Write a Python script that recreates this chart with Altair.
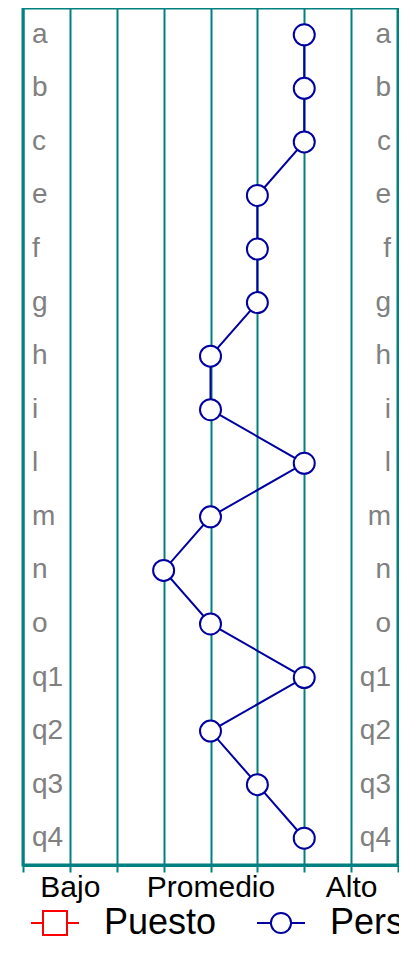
import altair as alt
import pandas as pd

categories = ["a", "b", "c", "e", "f", "g", "h", "i", "l", "m", "n", "o", "q1", "q2", "q3", "q4"]
pers_values = [6, 6, 6, 5, 5, 5, 4, 4, 6, 4, 3, 4, 6, 4, 5, 6]
series_names = ["Puesto", "Pers"]
series_colors = ["#FF0000", "#0000A0"]
level_ticks = [0, 1, 2, 3, 4, 5, 6, 7, 8]
level_labels = {1: "Bajo", 4: "Promedio", 7: "Alto"}

TEAL = "#008080"
GREY = "#808080"
NAVY = "#0000A0"
FONT = "Liberation Sans"

df = pd.DataFrame({
    "cat": categories,
    "val": pers_values,
    "order": list(range(len(categories))),
    "serie": ["Pers"] * len(categories),
})

label_expr = " : ".join(
    f"datum.value == {k} ? '{v}'" for k, v in level_labels.items()
) + " : ''"

x_scale = alt.Scale(domain=[0, 8], nice=False, zero=False)
y_scale = alt.Scale(domain=categories, padding=0.5)

x_axis = alt.Axis(
    values=level_ticks, labelExpr=label_expr, title=None,
    grid=True, gridColor=TEAL, gridWidth=2, gridOpacity=1,
    tickColor=TEAL, tickWidth=2, tickSize=7,
    domainColor=TEAL, domainWidth=3,
    labelFont=FONT, labelFontSize=30, labelColor="black",
    labelPadding=0, labelFlush=False, labelOverlap=False,
)

base = alt.Chart(df)

line = base.mark_line(color=NAVY, strokeWidth=2).encode(
    x=alt.X("val:Q", scale=x_scale, axis=x_axis),
    y=alt.Y("cat:N", scale=y_scale, axis=None),
    order="order:Q",
)

points = base.mark_point(filled=False, fill="white", fillOpacity=1, stroke=NAVY,
                         strokeWidth=2, size=441, opacity=1).encode(
    x=alt.X("val:Q", scale=x_scale),
    y=alt.Y("cat:N", scale=y_scale, axis=None),
)

# legend-only layer (no rows drawn); symbols: line with square / line with circle
sq_path = "M-1,0H-0.5M0.5,0H1M-0.5,-0.5H0.5V0.5H-0.5Z"
ci_path = "M-1,0H-0.42M0.42,0H1M-0.42,0A0.42,0.42,0,1,1,0.42,0A0.42,0.42,0,1,1,-0.42,0Z"

legend_layer = base.transform_filter("false").mark_point(filled=False, strokeWidth=2, opacity=1).encode(
    x=alt.X("val:Q", scale=x_scale),
    y=alt.Y("cat:N", scale=y_scale, axis=None),
    color=alt.Color(
        "serie:N",
        scale=alt.Scale(domain=series_names, range=series_colors),
        legend=alt.Legend(
            title=None, orient="none", direction="horizontal",
            legendX=7, legendY=890,
            labelFont=FONT, labelFontSize=36, labelColor="black",
            labelLimit=400, labelOffset=24, columnPadding=36,
            symbolSize=2304, symbolStrokeWidth=2,
        ),
    ),
    shape=alt.Shape(
        "serie:N",
        scale=alt.Scale(domain=series_names, range=[sq_path, ci_path]),
    ),
)

left_labels = base.mark_text(align="left", baseline="middle", dx=9, font=FONT, fontSize=28, color=GREY).encode(
    x=alt.datum(0),
    y=alt.Y("cat:N", scale=y_scale, axis=None),
    text="cat:N",
)
right_labels = base.mark_text(align="right", baseline="middle", dx=-7, font=FONT, fontSize=28, color=GREY).encode(
    x=alt.datum(8),
    y=alt.Y("cat:N", scale=y_scale, axis=None),
    text="cat:N",
)

chart = alt.layer(left_labels, right_labels, line, points, legend_layer).properties(
    width=375, height=857,
    autosize=alt.AutoSizeParams(type="none"),
    padding={"left": 15, "top": 0, "right": 1, "bottom": 76},
    background="white",
).configure_view(stroke=TEAL, strokeWidth=3)

chart.save("out.html", embed_options={"renderer": "svg", "actions": False})
